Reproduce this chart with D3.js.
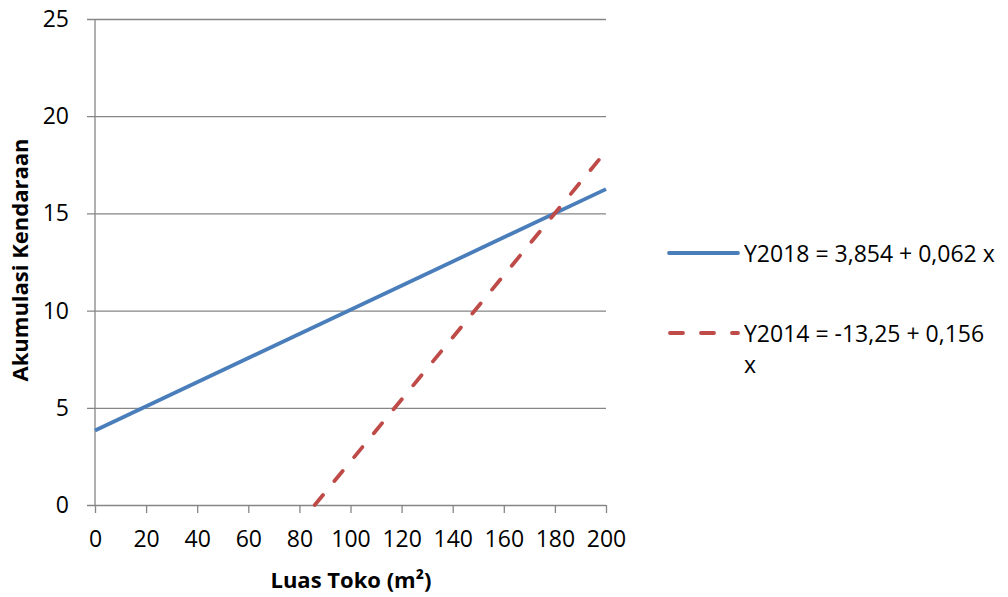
<!DOCTYPE html>
<html>
<head>
<meta charset="utf-8">
<script src="https://cdn.jsdelivr.net/npm/d3@7"></script>
<style>
  body { margin: 0; background: #fff; }
  text { font-family: "Open Sans", sans-serif; fill: #000; }
</style>
</head>
<body>
<script>
var width = 1008;
var height = 597;

var margin = {top: 19, left: 95, right: 402, bottom: 92};

// values
var xTicks = [0, 20, 40, 60, 80, 100, 120, 140, 160, 180, 200];
var yTicks = [0, 5, 10, 15, 20, 25];
var seriesNames = ["Y2018 = 3,854 + 0,062 x", "Y2014 = -13,25 + 0,156 x"];
var y2018 = [{x: 0, y: 3.83}, {x: 200, y: 16.25}];
var y2014 = [{x: 86, y: 0}, {x: 200, y: 18.2}];

var svg = d3.select("body")
  .append("svg")
  .attr("width", width)
  .attr("height", height);

var xScale = d3.scaleLinear()
  .domain([0, 200])
  .range([margin.left, width - margin.right]);

var yScale = d3.scaleLinear()
  .domain([0, 25])
  .range([height - margin.bottom, margin.top]);

var grey = "#868686";

// gridlines with the left tick stub
var yAxis = svg.append("g")
  .attr("transform", "translate(" + (width - margin.right) + ",0)")
  .call(d3.axisLeft(yScale).tickValues(yTicks)
    .tickSize(xScale.range()[1] - xScale.range()[0] + 8)
    .tickFormat(""));
yAxis.select(".domain").remove();
yAxis.selectAll("line").attr("stroke", grey).attr("stroke-width", 1.3);

// y tick labels
svg.selectAll(".ylab")
  .data(yTicks)
  .enter()
  .append("text")
  .attr("class", "ylab")
  .attr("x", 69)
  .attr("y", function(d) { return yScale(d) + 8; })
  .attr("text-anchor", "end")
  .style("font-size", "23px")
  .text(function(d) { return d; });

// vertical axis line
svg.append("line")
  .attr("x1", xScale(0)).attr("x2", xScale(0))
  .attr("y1", yScale(25)).attr("y2", yScale(0))
  .attr("stroke", grey).attr("stroke-width", 1.3);

// x axis
var xAxis = svg.append("g")
  .attr("transform", "translate(0," + yScale(0) + ")")
  .call(d3.axisBottom(xScale).tickValues(xTicks).tickSize(8).tickPadding(18));
xAxis.select(".domain").remove();
xAxis.selectAll("line").attr("stroke", grey).attr("stroke-width", 1.3);
xAxis.selectAll("text")
  .style("font-family", "'Open Sans', sans-serif")
  .style("font-size", "23px")
  .attr("fill", "#000");

var line = d3.line()
  .x(function(d) { return xScale(d.x); })
  .y(function(d) { return yScale(d.y); });

svg.append("path")
  .datum(y2018)
  .attr("d", line)
  .attr("fill", "none")
  .attr("stroke", "#4a7ebb")
  .attr("stroke-width", 3.8);

svg.append("path")
  .datum(y2014)
  .attr("d", line)
  .attr("fill", "none")
  .attr("stroke", "#be4b48")
  .attr("stroke-width", 3.8)
  .attr("stroke-linecap", "round")
  .attr("stroke-dasharray", "13,18");

// axis titles
svg.append("text")
  .attr("x", 351)
  .attr("y", 588)
  .attr("text-anchor", "middle")
  .style("font-size", "22px")
  .style("font-weight", "bold")
  .text("Luas Toko (m²)");

svg.append("text")
  .attr("transform", "translate(28,260) rotate(-90)")
  .attr("text-anchor", "middle")
  .style("font-size", "22px")
  .style("font-weight", "bold")
  .text("Akumulasi Kendaraan");

// legend
var legend = svg.append("g");
legend.append("line")
  .attr("x1", 669).attr("x2", 738).attr("y1", 253).attr("y2", 253)
  .attr("stroke", "#4a7ebb").attr("stroke-width", 3.8)
  .attr("stroke-linecap", "round");
legend.append("text")
  .attr("x", 744).attr("y", 262)
  .style("font-size", "23px")
  .text(seriesNames[0]);

legend.append("line")
  .attr("x1", 670).attr("x2", 738).attr("y1", 333).attr("y2", 333)
  .attr("stroke", "#be4b48").attr("stroke-width", 3.8)
  .attr("stroke-linecap", "round")
  .attr("stroke-dasharray", "13,18");
var t2 = legend.append("text")
  .attr("x", 744).attr("y", 342)
  .style("font-size", "23px");
t2.append("tspan").attr("x", 744).text(seriesNames[1].slice(0, -2));
t2.append("tspan").attr("x", 744).attr("dy", 31).text("x");
</script>
</body>
</html>
